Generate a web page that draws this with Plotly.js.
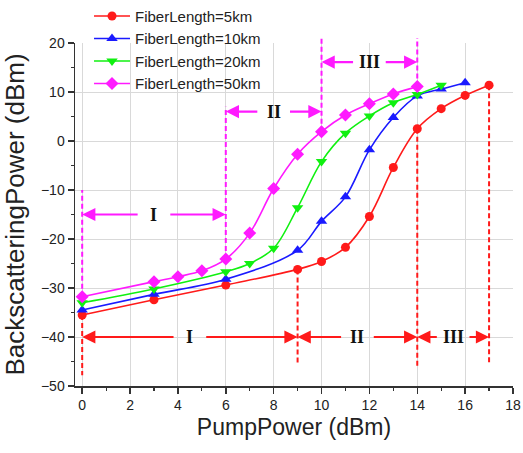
<!DOCTYPE html>
<html>
<head>
<meta charset="utf-8">
<script src="https://cdn.plot.ly/plotly-3.0.1.min.js"></script>
<style>html,body{margin:0;padding:0;background:#fff;}#chart{width:523px;height:453px;}</style>
</head>
<body>
<div id="chart"></div>
<script>
// ---- data ----
var x5km  = [0, 3, 6, 9, 10, 11, 12, 13, 14, 15, 16, 17];
var y5km  = [-35.5, -32.4, -29.4, -26.2, -24.6, -21.7, -15.4, -5.4, 2.5, 6.6, 9.3, 11.4];
var x10km = [0, 3, 6, 9, 10, 11, 12, 13, 14, 15, 16];
var y10km = [-34.5, -31.3, -28.2, -22.3, -16.4, -11.4, -1.8, 4.8, 9.2, 10.6, 11.9];
var x20km = [0, 3, 6, 7, 8, 9, 10, 11, 12, 13, 14, 15];
var y20km = [-33.0, -30.2, -26.7, -25.0, -21.9, -13.6, -4.2, 1.6, 5.1, 7.8, 9.5, 11.4];
var x50km = [0, 3, 4, 5, 6, 7, 8, 9, 10, 11, 12, 13, 14];
var y50km = [-31.8, -28.7, -27.7, -26.5, -24.1, -18.8, -9.7, -2.7, 1.9, 5.3, 7.6, 9.6, 11.1];
var seriesNames = ['FiberLength=5km', 'FiberLength=10km', 'FiberLength=20km', 'FiberLength=50km'];
var regionLabels = ['I', 'II', 'III'];
var redBounds = [0, 9, 14, 17];       // regions for 5km
var magentaBounds = [0, 6, 10, 14];   // regions for 50km
var xTickVals = [0, 2, 4, 6, 8, 10, 12, 14, 16, 18];
var yTickVals = [-50, -40, -30, -20, -10, 0, 10, 20];

// ---- styling ----
var RED = '#ff1a1a', BLUE = '#1a1aff', GREEN = '#10f010', MAG = '#ff1aff';
function mk(x, y, name, color, symbol, size) {
  return {x: x, y: y, name: name, type: 'scatter', mode: 'lines+markers',
    line: {color: color, width: 1.6, shape: 'spline', smoothing: 1.0},
    marker: {color: color, symbol: symbol, size: size}};
}
var traces = [
  mk(x5km, y5km, seriesNames[0], RED, 'circle', 9),
  mk(x10km, y10km, seriesNames[1], BLUE, 'triangle-up', 10),
  mk(x20km, y20km, seriesNames[2], GREEN, 'triangle-down', 10),
  mk(x50km, y50km, seriesNames[3], MAG, 'diamond', 10)
];

function valAt(xs, ys, xv) { return ys[xs.indexOf(xv)]; }

var shapes = [];
var annotations = [];
var dashStyle = '5px,3px';
var yMin = -50, yMax = 20;
function toPaper(v) { return (v - yMin) / (yMax - yMin); }

// red dashed boundaries (from the 5km curve downward)
var redBottoms = [-47.8, -45.3, -46.0, -45.7];
redBounds.forEach(function (b, i) {
  shapes.push({type: 'line', xref: 'x', yref: 'y', x0: b, x1: b,
    y0: valAt(x5km, y5km, b), y1: redBottoms[i],
    line: {color: RED, width: 2, dash: dashStyle}});
});
// magenta dashed boundaries (from the 50km curve upward)
var magTops = [-10, 7, 21, 21];
magentaBounds.forEach(function (b, i) {
  shapes.push({type: 'line', xref: 'x', yref: 'paper', x0: b, x1: b,
    y0: toPaper(valAt(x50km, y50km, b)), y1: toPaper(magTops[i]),
    line: {color: MAG, width: 2, dash: dashStyle}});
});

function regionArrows(bounds, yLevels, color) {
  var gap = 0.62;
  for (var i = 0; i < 3; i++) {
    var a = bounds[i], b = bounds[i + 1], m = (a + b) / 2, yy = yLevels[i];
    annotations.push({x: m, y: yy, xref: 'x', yref: 'y', text: regionLabels[i], showarrow: false,
      font: {family: 'Liberation Serif, Times New Roman, serif', size: 18, color: '#111', weight: 'bold'}});
    [[a, m - gap], [b, m + gap]].forEach(function (p) {
      annotations.push({x: p[0], y: yy, ax: p[1], ay: yy, xref: 'x', yref: 'y', axref: 'x', ayref: 'y',
        text: '', showarrow: true, arrowhead: 2, arrowsize: 1.2, arrowwidth: 2.2,
        arrowcolor: color, standoff: 0, startstandoff: 0});
    });
  }
}
regionArrows(redBounds, [-40, -40, -40], RED);
regionArrows(magentaBounds, [-15, 6, 16.1], MAG);

var tickFont = {family: 'Arial, Liberation Sans, sans-serif', size: 14, color: '#222'};
var layout = {
  width: 523, height: 453,
  margin: {l: 75, r: 10, t: 43, b: 67, autoexpand: false},
  paper_bgcolor: '#fff', plot_bgcolor: '#fff',
  showlegend: true,
  legend: {x: 0.032, y: 1.126, xanchor: 'left', yanchor: 'top', bgcolor: 'rgba(0,0,0,0)',
    font: {family: 'Arial, Liberation Sans, sans-serif', size: 15, color: '#222'},
    tracegroupgap: 0, itemwidth: 36},
  xaxis: {range: [-0.3, 18], tickvals: xTickVals, showgrid: true, gridcolor: '#d9d9d9', gridwidth: 1,
    zeroline: false, showline: true, linecolor: '#333', linewidth: 1.5,
    ticks: 'outside', ticklen: 6, tickwidth: 1.5, tickcolor: '#333',
    minor: {dtick: 1, tick0: 0, ticks: 'outside', ticklen: 3, tickwidth: 1.2, tickcolor: '#333', showgrid: false},
    tickfont: tickFont, automargin: false,
    title: {text: 'PumpPower (dBm)', font: {family: 'Arial, Liberation Sans, sans-serif', size: 23, color: '#222'}, standoff: 6}},
  yaxis: {range: [yMin, yMax], tickvals: yTickVals, showgrid: true, gridcolor: '#d9d9d9', gridwidth: 1,
    zeroline: false, showline: true, linecolor: '#333', linewidth: 1.5,
    ticks: 'outside', ticklen: 6, tickwidth: 1.5, tickcolor: '#333',
    minor: {dtick: 5, tick0: 0, ticks: 'outside', ticklen: 3, tickwidth: 1.2, tickcolor: '#333', showgrid: false},
    tickfont: tickFont, automargin: false,
    title: {text: 'BackscatteringPower (dBm)', font: {family: 'Arial, Liberation Sans, sans-serif', size: 26, color: '#222'}, standoff: 9}},
  shapes: shapes,
  annotations: annotations
};
Plotly.newPlot('chart', traces, layout, {displayModeBar: false, staticPlot: true});
</script>
</body>
</html>
